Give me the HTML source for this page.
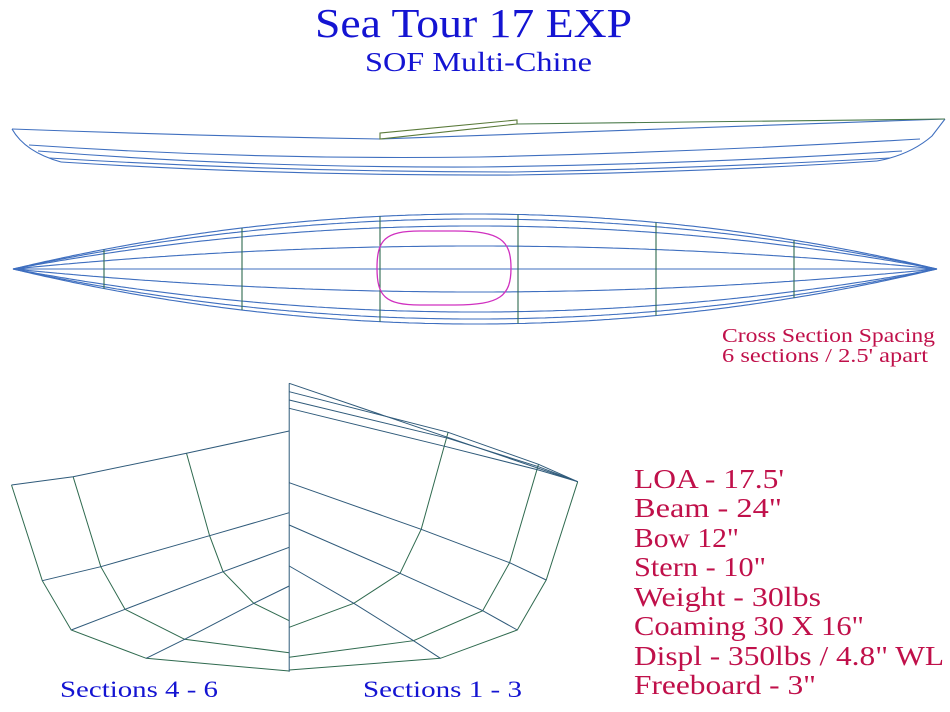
<!DOCTYPE html>
<html><head><meta charset="utf-8"><style>
html,body{margin:0;padding:0;background:#fff;}
svg{display:block;}
text{font-family:"Liberation Serif",serif;}
</style></head><body>
<svg id="chart" width="950" height="712" viewBox="0 0 950 712" xmlns="http://www.w3.org/2000/svg">
<text x="315" y="37" textLength="317" lengthAdjust="spacingAndGlyphs" font-size="41" fill="#1414d2">Sea Tour 17 EXP</text>
<text x="365" y="71" textLength="227" lengthAdjust="spacingAndGlyphs" font-size="27" fill="#1414d2">SOF Multi-Chine</text>

<g fill="none" stroke="#3f6fbf" stroke-width="1.1">
<path d="M12,129 Q200,136 380,139 Q660,128 945,119"/>
<path d="M29,145 Q250,160 479,157 Q700,152 920,139"/>
<path d="M38,151 Q250,168 479,167 Q700,164 902,151"/>
<path d="M49,158 Q280,172 515,172 Q710,168 890,158"/>
<path d="M61,162 Q280,176 515,175 Q710,172 877,161"/>
<path d="M12,129 Q25,152 61,162"/>
<path d="M945,119 L932,136 Q910,155 877,161"/>
<path d="M380,133 L517,120 L517,124 L380,139 Z" stroke="#5a7a3a"/>
<path d="M517,124 L945,119" stroke="#4a7a4a"/>
</g>

<g id="plan" fill="none" stroke="#3f6fbf" stroke-width="1.1"></g>
<path d="M377,268 C377,240 385,231 420,231 L455,231 C500,231 511,240 511,268 C511,296 500,305 455,305 L420,305 C385,305 377,296 377,268 Z" fill="none" stroke="#d030c0" stroke-width="1.3"/>

<g id="body" fill="none" stroke="#2f6a4f" stroke-width="1"></g>

<text font-size="20" fill="#c0104a"><tspan x="722" y="342" textLength="213" lengthAdjust="spacingAndGlyphs">Cross Section Spacing</tspan><tspan x="722" y="362" textLength="206" lengthAdjust="spacingAndGlyphs">6 sections / 2.5' apart</tspan></text>
<g font-size="27" fill="#c0104a">
<text x="634" y="488" textLength="150" lengthAdjust="spacingAndGlyphs">LOA - 17.5'</text>
<text x="634" y="517" textLength="148" lengthAdjust="spacingAndGlyphs">Beam - 24"</text>
<text x="634" y="547" textLength="105" lengthAdjust="spacingAndGlyphs">Bow 12"</text>
<text x="634" y="576" textLength="132" lengthAdjust="spacingAndGlyphs">Stern - 10"</text>
<text x="634" y="606" textLength="187" lengthAdjust="spacingAndGlyphs">Weight - 30lbs</text>
<text x="634" y="635" textLength="230" lengthAdjust="spacingAndGlyphs">Coaming 30 X 16"</text>
<text x="634" y="665" textLength="310" lengthAdjust="spacingAndGlyphs">Displ - 350lbs / 4.8" WL</text>
<text x="634" y="694" textLength="182" lengthAdjust="spacingAndGlyphs">Freeboard - 3"</text>
</g>
<text x="60" y="697" textLength="158" lengthAdjust="spacingAndGlyphs" font-size="23" fill="#1414d2">Sections 4 - 6</text>
<text x="363" y="697" textLength="159" lengthAdjust="spacingAndGlyphs" font-size="23" fill="#1414d2">Sections 1 - 3</text>
</svg>
<script>
const NS='http://www.w3.org/2000/svg';
const planOffsets=[55,50,43,23];
const stations=[104,242,380,518,656,794];
const plan=document.getElementById('plan');
function mk(parent,tag,attrs){const e=document.createElementNS(NS,tag);for(const k in attrs)e.setAttribute(k,attrs[k]);parent.appendChild(e);return e;}
const cy=269,x0=13,x1=937;
function halfW(off,x){const t=(x-x0)/(x1-x0);return off*4*t*(1-t);}
planOffsets.forEach(off=>{
  [-1,1].forEach(s=>{
    let d='';for(let x=x0;x<=x1;x+=4){d+=(x===x0?'M':'L')+x+','+(cy+s*halfW(off,x)).toFixed(1);}
    const p=mk(plan,'path',{d:d});
    
    
  });
});
const cl=mk(plan,'line',{x1:x0,y1:cy,x2:x1,y2:cy});


stations.forEach(x=>{
  const h=halfW(planOffsets[0],x);
  const l=mk(plan,'line',{x1:x,y1:cy-h,x2:x,y2:cy+h,stroke:'#2f6a4f'});
  
  
});
const leftSections=[
 [[30,345],[110,632],[185,780],[380,865],[752,903]],
 [[190,320],[262,590],[325,718],[480,808],[752,848]],
 [[485,250],[545,497],[580,605],[660,700],[752,752]]];
const leftCenters=[183,428,532,648];
const rightSections=[
 [[1502,335],[1420,630],[1345,780],[1145,865],[752,900]],
 [[1400,283],[1325,578],[1255,722],[1075,812],[752,862]],
 [[1165,187],[1095,478],[1040,610],[920,700],[752,772]]];
const rightCenters=[65,338,465,588];
function T(p){return [p[0]/2.6,370+p[1]/3];}
const body=document.getElementById('body');
function poly(pts,name,col){const d=pts.map(T).map(p=>p[0].toFixed(1)+','+p[1].toFixed(1)).join(' ');const e=mk(body,'polyline',{points:d});if(col)e.setAttribute('stroke',col);

}
[[leftSections,leftCenters],[rightSections,rightCenters]].forEach(([secs,cents])=>{
  secs.forEach(s=>poly(s,'section-curve'));
  for(let i=0;i<4;i++){poly([secs[0][i],secs[1][i],secs[2][i],[752,cents[i]]],'chine-line','#2f5a7a');}
});
poly([[752,40],[1502,335]],'sheer-line','#2f5a7a');
poly([[752,90],[1165,205],[1400,290],[1502,335]],'sheer-line','#2f5a7a');
poly([[752,115],[1160,230],[1400,300],[1502,335]],'sheer-line','#2f5a7a');
poly([[752,40],[752,905]],'center-line','#2f5a7a');
</script>
</body></html>
